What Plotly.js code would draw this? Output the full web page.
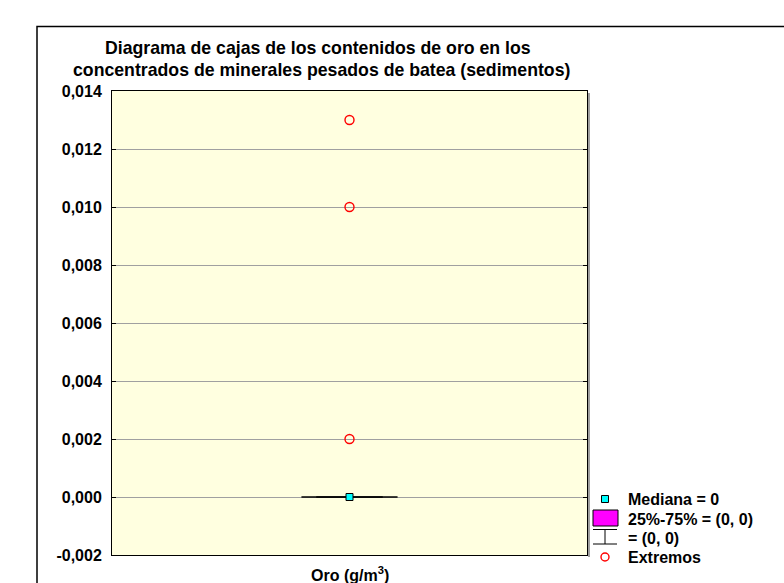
<!DOCTYPE html>
<html><head><meta charset="utf-8">
<script src="https://cdn.plot.ly/plotly-3.0.1.min.js"></script>
<style>body{margin:0;background:#fff}</style></head>
<body><div id="c" style="width:784px;height:583px"></div>
<script>
// ---- data ----
const categoryTitle = "Oro (g/m<sup>3</sup>)";
const median = [0];
const q1 = [0];
const q3 = [0];
const whiskerLow = [0];
const whiskerHigh = [0];
const extremes = [0.013, 0.010, 0.002];
const yTickVals = [-0.002, 0, 0.002, 0.004, 0.006, 0.008, 0.010, 0.012, 0.014];
const yTickText = ["-0,002", "0,000", "0,002", "0,004", "0,006", "0,008", "0,010", "0,012", "0,014"];
const legendLabels = ["Mediana = 0", "25%-75% = (0, 0)", "= (0, 0)", "Extremos"];
const titleLines = ["Diagrama de cajas de los contenidos de oro en los",
                    "concentrados de minerales pesados de batea (sedimentos)"];

// ---- layout geometry ----
const L = 112, R = 587, T = 91, B = 555, W = 784, H = 583;
const px = p => (p - L) / (R - L);
const py = p => (B - p) / (B - T);
const FONT = "Liberation Sans, Arial, sans-serif";
const boxHalf = 0.07, capHalf = 0.101;

const traces = [
  {x: [0, 0], y: [whiskerLow[0], whiskerHigh[0]], mode: 'lines', line: {color: 'black', width: 1}, hoverinfo: 'skip'},
  {x: [-capHalf, capHalf], y: [whiskerHigh[0], whiskerHigh[0]], mode: 'lines', line: {color: 'black', width: 1}, hoverinfo: 'skip'},
  {x: [-capHalf, capHalf], y: [whiskerLow[0], whiskerLow[0]], mode: 'lines', line: {color: 'black', width: 1}, hoverinfo: 'skip'},
  {x: [-boxHalf, boxHalf, boxHalf, -boxHalf, -boxHalf], y: [q1[0], q1[0], q3[0], q3[0], q1[0]],
   mode: 'lines', fill: 'toself', fillcolor: '#ff00ff', line: {color: 'black', width: 1.3}, hoverinfo: 'skip'},
  {x: [0], y: median, mode: 'markers', marker: {symbol: 'square', size: 7, color: '#00ffff', line: {color: 'black', width: 1}}},
  {x: extremes.map(() => 0), y: extremes, mode: 'markers',
   marker: {symbol: 'circle-open', size: 9, color: '#ff0000', line: {width: 1.4, color: '#ff0000'}}}
];

const shapes = [
  {type: 'path', xref: 'paper', yref: 'paper',
   path: `M ${px(37)} ${py(H + 5)} L ${px(37)} ${py(26.5)} L ${px(W + 5)} ${py(26.5)}`,
   line: {color: 'black', width: 1.5}},
  {type: 'line', xref: 'paper', yref: 'paper', x0: px(589), x1: px(589), y0: py(93), y1: py(557),
   line: {color: '#a0a0a0', width: 2}},
  {type: 'rect', xref: 'paper', yref: 'paper', x0: px(601.5), x1: px(608.5), y0: py(495.5), y1: py(502.5),
   fillcolor: '#00ffff', line: {color: 'black', width: 1}},
  {type: 'rect', xref: 'paper', yref: 'paper', x0: px(593), x1: px(618), y0: py(510), y1: py(526),
   fillcolor: '#ff00ff', line: {color: 'black', width: 1}},
  {type: 'line', xref: 'paper', yref: 'paper', x0: px(593), x1: px(617), y0: py(529.5), y1: py(529.5), line: {color: 'black', width: 1}},
  {type: 'line', xref: 'paper', yref: 'paper', x0: px(605), x1: px(605), y0: py(529.5), y1: py(544), line: {color: 'black', width: 1}},
  {type: 'line', xref: 'paper', yref: 'paper', x0: px(593), x1: px(617), y0: py(544), y1: py(544), line: {color: 'black', width: 1}},
  {type: 'circle', xref: 'paper', yref: 'paper', x0: px(601), x1: px(609), y0: py(553), y1: py(561),
   line: {color: '#ff0000', width: 1.4}}
];

const legendY = [499, 519, 538, 557];
const annotations = legendLabels.map((t, i) => ({
  text: t, xref: 'paper', yref: 'paper', x: px(626), y: py(legendY[i]), xanchor: 'left', yanchor: 'middle',
  showarrow: false, font: {family: FONT, size: 16, color: 'black', weight: 'bold'}
}));
annotations.push({
  text: categoryTitle, xref: 'paper', yref: 'paper', x: 0.5, y: py(586), xanchor: 'center', yanchor: 'bottom',
  showarrow: false, font: {family: FONT, size: 16, color: 'black', weight: 'bold'}
});
const titleCx = [317.5, 321], titleCy = [48, 70];
titleLines.forEach((t, i) => annotations.push({
  text: t, xref: 'paper', yref: 'paper', x: px(titleCx[i]), y: py(titleCy[i]), xanchor: 'center', yanchor: 'middle',
  showarrow: false, font: {family: FONT, size: 17.7, color: 'black', weight: 'bold'}
}));

const layout = {
  width: W, height: H,
  margin: {l: L, r: W - R, t: T, b: H - B, pad: 0},
  paper_bgcolor: 'white', plot_bgcolor: '#ffffe0',
  showlegend: false,
  xaxis: {range: [-0.5, 0.5], showticklabels: false, showgrid: false, zeroline: false,
          showline: true, mirror: true, linecolor: 'black', linewidth: 1, ticks: ''},
  yaxis: {range: [-0.002, 0.014], tickmode: 'array', tickvals: yTickVals, ticktext: yTickText,
          showgrid: true, gridcolor: '#a0a0a0', gridwidth: 1, zeroline: false,
          showline: true, mirror: 'ticks', linecolor: 'black', linewidth: 1,
          ticks: 'inside', ticklen: 4, tickcolor: 'black', ticklabelstandoff: 6,
          tickfont: {family: FONT, size: 16, color: 'black', weight: 'bold'}},
  shapes: shapes, annotations: annotations
};

Plotly.newPlot('c', traces, layout, {staticPlot: true, displayModeBar: false});
</script></body></html>
